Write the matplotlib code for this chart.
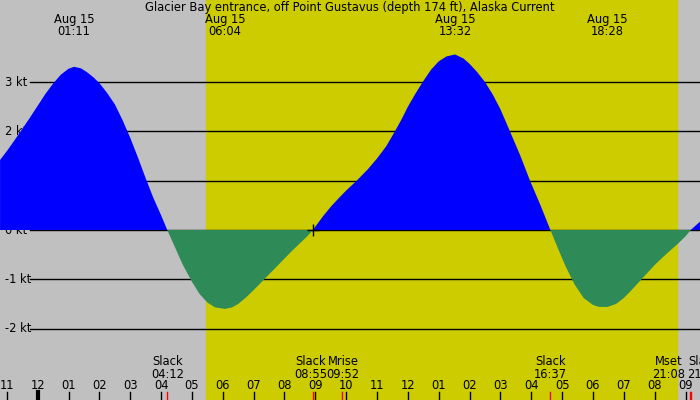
import matplotlib
matplotlib.use("Agg")
import matplotlib.pyplot as plt
import matplotlib.transforms as mtransforms

title = "Glacier Bay entrance, off Point Gustavus (depth 174 ft), Alaska Current"
# time in hours since midnight Aug 15, current in knots
hours = [-1.22, -1.0, -0.75, -0.5, -0.25, 0.0, 0.25, 0.5, 0.75, 1.0, 1.18, 1.4, 1.6, 1.8, 2.0, 2.25, 2.5, 2.75, 3.0, 3.25, 3.5, 3.75, 4.0, 4.2,
         4.45, 4.7, 5.0, 5.25, 5.5, 5.75, 6.07, 6.3, 6.5, 6.75, 7.0, 7.25, 7.5, 7.75, 8.0, 8.25, 8.5, 8.75, 8.92,
         9.25, 9.5, 9.75, 10.0, 10.34, 10.7, 11.0, 11.3, 11.58, 11.8, 12.0, 12.25, 12.5, 12.75, 13.0, 13.25, 13.53,
         13.8, 14.0, 14.25, 14.5, 14.75, 15.0, 15.31, 15.65, 15.96, 16.3, 16.62,
         16.85, 17.1, 17.4, 17.7, 18.0, 18.2, 18.47, 18.75, 19.0, 19.25, 19.5, 19.75, 20.0, 20.25, 20.5, 20.75, 21.0, 21.17, 21.47]
knots = [1.42, 1.6, 1.82, 2.05, 2.28, 2.52, 2.76, 2.97, 3.15, 3.27, 3.31, 3.28, 3.2, 3.1, 2.98, 2.78, 2.55, 2.23, 1.87, 1.47, 1.05, 0.65, 0.3, 0.0,
         -0.35, -0.7, -1.05, -1.3, -1.47, -1.57, -1.6, -1.57, -1.5, -1.37, -1.22, -1.06, -0.9, -0.74, -0.58, -0.42, -0.27, -0.12, 0.0,
         0.28, 0.47, 0.64, 0.8, 1.0, 1.23, 1.45, 1.7, 2.0, 2.25, 2.5, 2.77, 3.02, 3.25, 3.42, 3.52, 3.56,
         3.48, 3.37, 3.2, 3.0, 2.75, 2.45, 2.0, 1.5, 1.0, 0.5, 0.0,
         -0.35, -0.72, -1.1, -1.38, -1.52, -1.56, -1.56, -1.5, -1.38, -1.22, -1.05, -0.88, -0.71, -0.56, -0.42, -0.28, -0.13, 0.0, 0.17]
sunrise, sunset = 5.46, 20.72
yticks = [3, 2, 1, 0, -1, -2]
top_events = [(1.18, "Aug 15\n01:11"), (6.07, "Aug 15\n06:04"), (13.53, "Aug 15\n13:32"), (18.47, "Aug 15\n18:28")]
bottom_events = [(4.2, "Slack\n04:12"), (8.92, "Slack\n08:55"), (9.87, "Mrise\n09:52"),
                 (16.62, "Slack\n16:37"), (21.13, "Mset\n21:08"), (21.17, "Slack\n21:10")]
label_pos = [4.2, 8.85, 9.9, 16.62, 20.45, 21.6]
hour_ticks = list(range(-1, 22))
hour_labels = ["11", "12"] + ["%02d" % h for h in range(1, 13)] + ["%02d" % h for h in range(1, 10)]

fig = plt.figure(figsize=(7, 4), dpi=100)
ax = fig.add_axes([0, 0, 1, 1])
ax.set_axis_off()
x0, x1 = -1.222, 21.47
ylo, yhi = -3.448, 4.665
ax.set_xlim(x0, x1); ax.set_ylim(ylo, yhi)
ax.axvspan(x0, x1, color="#c0c0c0", zorder=0)
ax.axvspan(sunrise, sunset, color="#cccc00", zorder=1)
fs = 8.3
for v in yticks:
    ax.plot([x0 + 0.97, x1], [v, v], color="black", lw=1, zorder=2)
    ax.text(x0 + 0.15, v, "%d kt" % v, fontsize=fs, va="center", ha="left", zorder=2)
ax.fill_between(hours, knots, 0, where=[k >= 0 for k in knots], interpolate=True, color="#0000ff", lw=0, zorder=3)
ax.fill_between(hours, knots, 0, where=[k <= 0 for k in knots], interpolate=True, color="#2e8b57", lw=0, zorder=3)
ax.plot([8.92], [0], marker="+", color="black", ms=8, zorder=4)
ax.text((x0 + x1) / 2, yhi - 0.02, title, ha="center", va="top", fontsize=fs, zorder=5)
for t, s in top_events:
    ax.text(t, yhi - 0.26, s, ha="center", va="top", fontsize=fs, linespacing=0.95, zorder=5)
trans = mtransforms.blended_transform_factory(ax.transData, fig.transFigure)
for t, s in zip(hour_ticks, hour_labels):
    ax.text(t, 14.5 / 400, s, ha="center", va="center", fontsize=fs, transform=trans, zorder=5)
    ax.plot([t, t], [0, 8 / 400], color="black", lw=3 if s == "12" and t == 0 else 1, transform=trans, zorder=5)
for (t, s), p in zip(bottom_events, label_pos):
    ax.plot([t, t], [0, 8 / 400], color="red", lw=1, transform=trans, zorder=6)
    ax.text(p, 32 / 400, s, ha="center", va="center", fontsize=fs, linespacing=0.95, transform=trans, zorder=5)
fig.savefig("out.png", dpi=100)
